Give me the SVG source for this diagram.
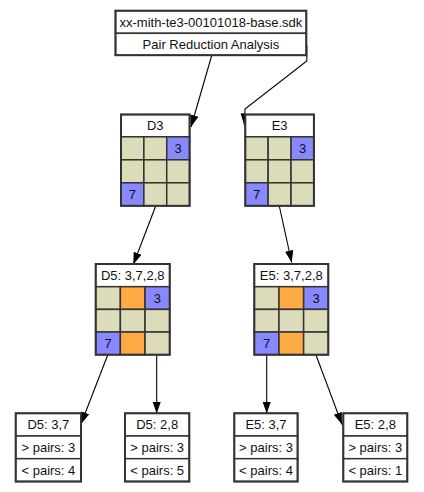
<svg xmlns="http://www.w3.org/2000/svg" width="424" height="492" viewBox="0 0 424 492">
<style>
.c{stroke:#333;stroke-width:1.5}
.o{fill:none;stroke:#333;stroke-width:2}
.w{fill:#fff}
.t{fill:#dcdcbb}
.b{fill:#8888ff}
.g{fill:#ffaa44}
text{font-family:"Liberation Sans",Arial,sans-serif;font-size:13px;fill:#111;text-anchor:middle}
.e{fill:none;stroke:#000;stroke-width:1.1}
</style>
<defs>
<marker id="ah" markerUnits="userSpaceOnUse" markerWidth="12" markerHeight="10" viewBox="0 0 10 7" refX="10" refY="3.5" orient="auto">
<path d="M0,0 L10,3.5 L0,7 Z" fill="#000"/>
</marker>
</defs>
<rect width="424" height="492" fill="#fff"/>
<g id="connectors">
<path class="e" d="M211.7,55.5 L191,127" marker-end="url(#ah)"/>
<path class="e" d="M306.8,45 L306.8,61 L245,109 L244.3,125.5" marker-end="url(#ah)"/>
<path class="e" d="M155.7,206 L133.3,264.5" marker-end="url(#ah)"/>
<path class="e" d="M279.3,206 L291.7,262.5" marker-end="url(#ah)"/>
<path class="e" d="M107.7,355 L81,424" marker-end="url(#ah)"/>
<path class="e" d="M156.7,355 L156.7,413.5" marker-end="url(#ah)"/>
<path class="e" d="M266.7,355 L266.7,413.5" marker-end="url(#ah)"/>
<path class="e" d="M316,355 L342,424.5" marker-end="url(#ah)"/>
</g>
<g id="root">
<rect class="c w" x="115.5" y="10.7" width="190.8" height="22.6"/>
<rect class="c w" x="115.5" y="33.3" width="190.8" height="21.9"/>
<rect class="o" x="115.5" y="10.7" width="190.8" height="44.5"/>
<text x="210.9" y="26.6">xx-mith-te3-00101018-base.sdk</text>
<text x="210.9" y="48.8">Pair Reduction Analysis</text>
</g>
<g id="D3">
<rect class="c w" x="121" y="114.5" width="68.6" height="22.3"/>
<rect class="c t" x="121" y="136.8" width="22.87" height="23"/>
<rect class="c t" x="143.87" y="136.8" width="22.87" height="23"/>
<rect class="c b" x="166.74" y="136.8" width="22.86" height="23"/>
<rect class="c t" x="121" y="159.8" width="22.87" height="23"/>
<rect class="c t" x="143.87" y="159.8" width="22.87" height="23"/>
<rect class="c t" x="166.74" y="159.8" width="22.86" height="23"/>
<rect class="c b" x="121" y="182.8" width="22.87" height="23"/>
<rect class="c t" x="143.87" y="182.8" width="22.87" height="23"/>
<rect class="c t" x="166.74" y="182.8" width="22.86" height="23"/>
<rect class="o" x="121" y="114.5" width="68.6" height="91.3"/>
<text x="155.3" y="130.2">D3</text>
<text x="178.2" y="153">3</text>
<text x="132.4" y="199">7</text>
</g>
<g id="E3">
<rect class="c w" x="245.3" y="114.5" width="68.6" height="22.3"/>
<rect class="c t" x="245.3" y="136.8" width="22.87" height="23"/>
<rect class="c t" x="268.17" y="136.8" width="22.87" height="23"/>
<rect class="c b" x="291.04" y="136.8" width="22.86" height="23"/>
<rect class="c t" x="245.3" y="159.8" width="22.87" height="23"/>
<rect class="c t" x="268.17" y="159.8" width="22.87" height="23"/>
<rect class="c t" x="291.04" y="159.8" width="22.86" height="23"/>
<rect class="c b" x="245.3" y="182.8" width="22.87" height="23"/>
<rect class="c t" x="268.17" y="182.8" width="22.87" height="23"/>
<rect class="c t" x="291.04" y="182.8" width="22.86" height="23"/>
<rect class="o" x="245.3" y="114.5" width="68.6" height="91.3"/>
<text x="279.6" y="130.2">E3</text>
<text x="302.5" y="153">3</text>
<text x="256.7" y="199">7</text>
</g>
<g id="D5">
<rect class="c w" x="95.7" y="264" width="74" height="22.7"/>
<rect class="c t" x="95.7" y="286.7" width="24.67" height="22.67"/>
<rect class="c g" x="120.37" y="286.7" width="24.67" height="22.67"/>
<rect class="c b" x="145.04" y="286.7" width="24.66" height="22.67"/>
<rect class="c t" x="95.7" y="309.37" width="24.67" height="22.67"/>
<rect class="c t" x="120.37" y="309.37" width="24.67" height="22.67"/>
<rect class="c t" x="145.04" y="309.37" width="24.66" height="22.67"/>
<rect class="c b" x="95.7" y="332.04" width="24.67" height="22.66"/>
<rect class="c g" x="120.37" y="332.04" width="24.67" height="22.66"/>
<rect class="c t" x="145.04" y="332.04" width="24.66" height="22.66"/>
<rect class="o" x="95.7" y="264" width="74" height="90.7"/>
<text x="132.7" y="280">D5: 3,7,2,8</text>
<text x="157.4" y="302.6">3</text>
<text x="108" y="348">7</text>
</g>
<g id="E5">
<rect class="c w" x="254.3" y="264" width="74" height="22.7"/>
<rect class="c t" x="254.3" y="286.7" width="24.67" height="22.67"/>
<rect class="c g" x="278.97" y="286.7" width="24.67" height="22.67"/>
<rect class="c b" x="303.64" y="286.7" width="24.66" height="22.67"/>
<rect class="c t" x="254.3" y="309.37" width="24.67" height="22.67"/>
<rect class="c t" x="278.97" y="309.37" width="24.67" height="22.67"/>
<rect class="c t" x="303.64" y="309.37" width="24.66" height="22.67"/>
<rect class="c b" x="254.3" y="332.04" width="24.67" height="22.66"/>
<rect class="c g" x="278.97" y="332.04" width="24.67" height="22.66"/>
<rect class="c t" x="303.64" y="332.04" width="24.66" height="22.66"/>
<rect class="o" x="254.3" y="264" width="74" height="90.7"/>
<text x="291.3" y="280">E5: 3,7,2,8</text>
<text x="316" y="302.6">3</text>
<text x="266.6" y="348">7</text>
</g>
<g id="D5_37">
<rect class="c w" x="15.7" y="413.3" width="65.3" height="22.7"/>
<rect class="c w" x="15.7" y="436" width="65.3" height="22.7"/>
<rect class="c w" x="15.7" y="458.7" width="65.3" height="22.8"/>
<rect class="o" x="15.7" y="413.3" width="65.3" height="68.2"/>
<text x="48.4" y="429.2">D5: 3,7</text>
<text x="48.4" y="451.9">&gt; pairs: 3</text>
<text x="48.4" y="474.6">&lt; pairs: 4</text>
</g>
<g id="D5_28">
<rect class="c w" x="125" y="413.3" width="64.3" height="22.7"/>
<rect class="c w" x="125" y="436" width="64.3" height="22.7"/>
<rect class="c w" x="125" y="458.7" width="64.3" height="22.8"/>
<rect class="o" x="125" y="413.3" width="64.3" height="68.2"/>
<text x="157.2" y="429.2">D5: 2,8</text>
<text x="157.2" y="451.9">&gt; pairs: 3</text>
<text x="157.2" y="474.6">&lt; pairs: 5</text>
</g>
<g id="E5_37">
<rect class="c w" x="234.3" y="413.3" width="63.3" height="22.7"/>
<rect class="c w" x="234.3" y="436" width="63.3" height="22.7"/>
<rect class="c w" x="234.3" y="458.7" width="63.3" height="22.8"/>
<rect class="o" x="234.3" y="413.3" width="63.3" height="68.2"/>
<text x="266" y="429.2">E5: 3,7</text>
<text x="266" y="451.9">&gt; pairs: 3</text>
<text x="266" y="474.6">&lt; pairs: 4</text>
</g>
<g id="E5_28">
<rect class="c w" x="343.3" y="413.3" width="64" height="22.7"/>
<rect class="c w" x="343.3" y="436" width="64" height="22.7"/>
<rect class="c w" x="343.3" y="458.7" width="64" height="22.8"/>
<rect class="o" x="343.3" y="413.3" width="64" height="68.2"/>
<text x="375.3" y="429.2">E5: 2,8</text>
<text x="375.3" y="451.9">&gt; pairs: 3</text>
<text x="375.3" y="474.6">&lt; pairs: 1</text>
</g>
</svg>
